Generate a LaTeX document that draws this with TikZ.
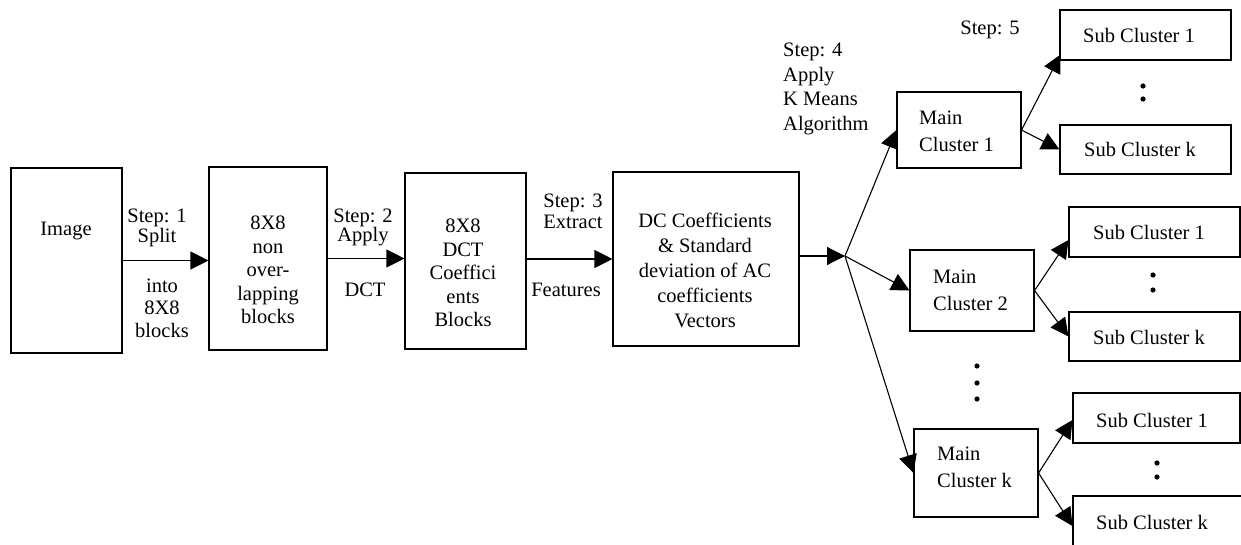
\documentclass[tikz,border=0pt]{standalone}
\usepackage{fontspec}
\setmainfont{Liberation Serif}
\usetikzlibrary{arrows.meta,calc}
\begin{document}
\begin{tikzpicture}[x=1pt,y=-1pt,
  box/.style={draw,line width=1.1pt,inner sep=0pt,minimum width=#1},
  txt/.style={font=\fontsize{20.5}{23.5}\selectfont,align=center,inner sep=0pt},
  ltxt/.style={font=\fontsize{20.5}{24.5}\selectfont,align=left,inner sep=0pt},
  conn/.style={line width=1.1pt,-{Triangle[length=18pt,width=18pt]}},
  dot/.style={fill=black}]
\useasboundingbox (0,0) rectangle (1241,544);
\clip (0,0) rectangle (1241,544);
% main chain boxes
\node[box=111pt,minimum height=185pt] (img) at (66.5,260.5) {};
\node[box=118pt,minimum height=183pt] (blk) at (268,258.5) {};
\node[box=121pt,minimum height=176pt] (dct) at (465.5,261) {};
\node[box=186pt,minimum height=174pt] (vec) at (706,259) {};
\node[txt] (timg) at (66,231) {Image};
\node[txt] (tblk) at (268,270) {8X8\\non\\over-\\lapping\\blocks};
\node[txt] (tdct) at (463,273) {8X8\\DCT\\Coeffici\\ents\\Blocks};
\node[txt,font=\fontsize{20.5}{25}\selectfont] (tvec) at (705,270) {DC Coefficients\\\& Standard\\deviation of AC\\coefficients\\Vectors};
% main clusters
\node[box=124pt,minimum height=76pt] (mc1) at (959,130) {};
\node[box=124pt,minimum height=81pt] (mc2) at (972,290.5) {};
\node[box=124pt,minimum height=88pt] (mck) at (976,473) {};
\node[ltxt,anchor=west,font=\fontsize{20.5}{27}\selectfont] (tmc1) at (919,131) {Main\\Cluster 1};
\node[ltxt,anchor=west,font=\fontsize{20.5}{27}\selectfont] (tmc2) at (933,290) {Main\\Cluster 2};
\node[ltxt,anchor=west,font=\fontsize{20.5}{27}\selectfont] (tmck) at (937,467.5) {Main\\Cluster k};
% sub clusters
\node[box=171pt,minimum height=50pt] (s11) at (1145.5,35) {};
\node[box=171pt,minimum height=49pt] (s1k) at (1145.5,149.5) {};
\node[box=171pt,minimum height=50pt] (s21) at (1154.5,232) {};
\node[box=171pt,minimum height=49pt] (s2k) at (1154.5,336.5) {};
\node[box=167pt,minimum height=50pt] (s31) at (1156.5,418) {};
\node[box=180pt,minimum height=60pt] (s3k) at (1163,526) {};
\node[txt] (ts11) at (1139,35) {Sub Cluster 1};
\node[txt] (ts1k) at (1140,149) {Sub Cluster k};
\node[txt] (ts21) at (1149,232) {Sub Cluster 1};
\node[txt] (ts2k) at (1149,337) {Sub Cluster k};
\node[txt] (ts31) at (1152,420) {Sub Cluster 1};
\node[txt] (ts3k) at (1152,522) {Sub Cluster k};
% step labels
\node[txt,font=\fontsize{20.5}{20}\selectfont] (l1a) at (157,228) {Step: 1\\Split};
\node[txt,font=\fontsize{20.5}{22.5}\selectfont] (l1b) at (162,308) {into\\8X8\\blocks};
\node[txt,font=\fontsize{20.5}{19}\selectfont] (l2a) at (363,227) {Step: 2\\Apply};
\node[txt] (l2b) at (365,290) {DCT};
\node[txt,font=\fontsize{20.5}{21}\selectfont] (l3a) at (573,211) {Step: 3\\Extract};
\node[txt] (l3b) at (566,290) {Features};
\node[ltxt,anchor=west] (l4) at (783,89) {Step: 4\\Apply\\K Means\\Algorithm};
\node[txt] (l5) at (990,30) {Step: 5};
% connectors
\coordinate (br) at (845,256);
\draw[conn] (img.east) -- (img.east -| blk.west);
\draw[conn] (blk.east) -- (blk.east -| dct.west);
\draw[conn] (dct.east |- vec.west) -- (vec.west);
\draw[conn] (vec.east |- br) -- (br);
\draw[conn] (br) -- (mc1.west);
\draw[conn] (br) -- (mc2.west);
\draw[conn] (br) -- (mck.west);
\draw[conn] (mc1.east) -- ($(s11.south west)+(1,-6)$);
\draw[conn] (mc1.east) -- (s1k.west);
\draw[conn] (mc2.east) -- ($(s21.west)+(0,8)$);
\draw[conn] (mc2.east) -- (s2k.west);
\draw[conn] (mck.east) -- ($(s31.west)+(0,2)$);
\draw[conn] (mck.east) -- (s3k.west);
% dots
\foreach \p in {(1143,86),(1143,99),(1153,275),(1153,290),(977,366),(977,383),(977,399),(1157,463),(1157,477)}
  \fill[dot] \p circle (2.6);
\end{tikzpicture}
\end{document}
